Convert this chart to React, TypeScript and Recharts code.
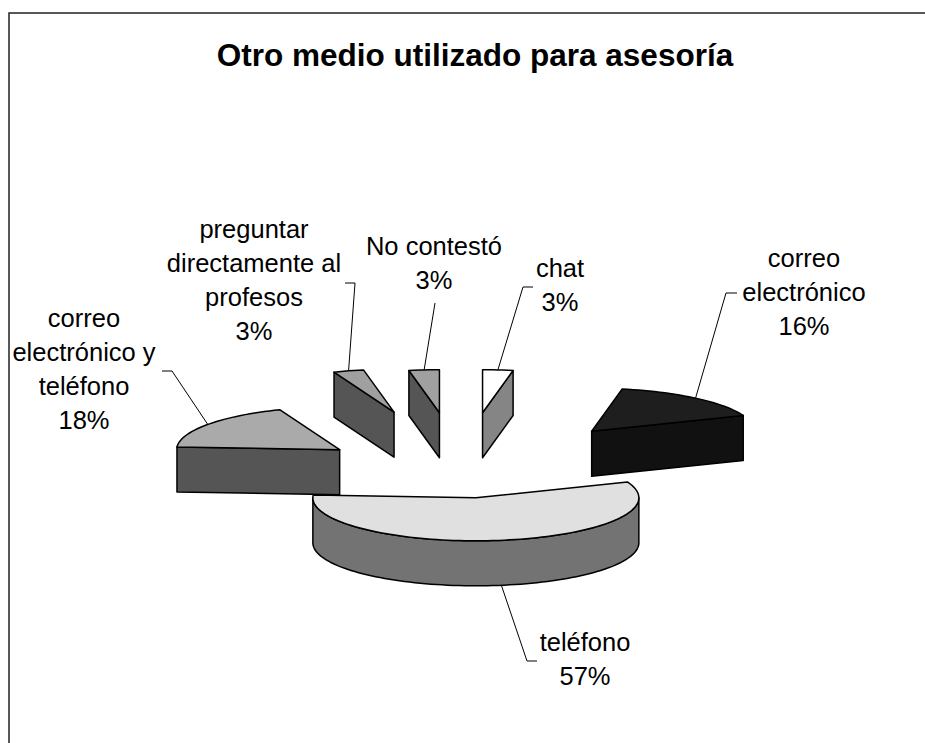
import { PieChart, Pie } from 'recharts'

const categories = [
  'chat',
  'correo electrónico',
  'teléfono',
  'correo electrónico y teléfono',
  'preguntar directamente al profesos',
  'No contestó',
]
const shares = [3, 16, 57, 18, 3, 3]

const data = categories.map((name, i) => ({ name, value: shares[i] }))

// per-slice look, same order as categories
const topColors = ['#ffffff', '#1e1e1e', '#e0e0e0', '#aaaaaa', '#a0a0a0', '#a0a0a0']
const sideColors = ['#858585', '#111111', '#737373', '#555555', '#555555', '#555555']
const explode = [229, 205, 95, 150, 240, 229]
const labelAt = [[560, 277], [804, 267], [585, 651], [84, 327], [254, 238], [434, 255]]
const elbows = [
  [[523, 287], [533, 287]],
  [[726, 293], [737, 293]],
  [[527, 661], [537, 661]],
  [[172, 371], [162, 371]],
  [[355, 283], [345, 283]],
  [[435, 303]],
]

const RAD = Math.PI / 180
const FLAT = 0.264
const DEPTH = 45
const FONT = '"Liberation Sans", Arial, sans-serif'

function at(x0: number, y0: number, r: number, t: number) {
  return [x0 + r * Math.sin(t * RAD), y0 - r * FLAT * Math.cos(t * RAD)]
}

function arc(x0: number, y0: number, r: number, a: number, b: number) {
  const n = Math.max(1, Math.ceil(Math.abs(b - a) / 2))
  const pts: number[][] = []
  for (let i = 0; i <= n; i++) pts.push(at(x0, y0, r, a + ((b - a) * i) / n))
  return pts
}

const down = (pts: number[][]) => pts.map(([x, y]) => [x, y + DEPTH])
const poly = (pts: number[][]) => pts.map((p) => p.join(',')).join(' ')

function geom(p: any) {
  const i = categories.indexOf(p.payload?.name ?? p.name)
  const t1 = 90 - p.startAngle
  const t2 = 90 - p.endAngle
  const tm = (t1 + t2) / 2
  const [x0, y0] = at(p.cx, p.cy, explode[i], tm)
  return { i, t1, t2, tm, x0, y0, r: p.outerRadius }
}

function Slice3D(p: any) {
  const { i, t1, t2, x0, y0, r } = geom(p)
  const apex = [x0, y0]
  const faces: number[][][] = []
  const s = at(x0, y0, r, t1)
  const e = at(x0, y0, r, t2)
  if (Math.cos((t1 - 90) * RAD) < -0.01) faces.push([apex, s, ...down([s, apex])])
  if (Math.cos((t2 + 90) * RAD) < -0.01) faces.push([apex, e, ...down([e, apex])])
  const a = Math.max(t1, 90)
  const b = Math.min(t2, 270)
  const wall = b > a ? [...arc(x0, y0, r, a, b), ...down(arc(x0, y0, r, b, a))] : null
  const top = [apex, ...arc(x0, y0, r, t1, t2)]
  const line = { stroke: '#000', strokeWidth: 1.5, strokeLinejoin: 'round' as const }
  return (
    <g>
      {faces.map((f, k) => (
        <polygon key={k} points={poly(f)} fill={sideColors[i]} {...line} />
      ))}
      {wall && <polygon points={poly(wall)} fill={sideColors[i]} {...line} />}
      <polygon points={poly(top)} fill={topColors[i]} {...line} />
    </g>
  )
}

function wrap(text: string, max: number) {
  const out: string[] = []
  let cur = ''
  for (const w of text.split(' ')) {
    if (cur && (cur + ' ' + w).length > max) {
      out.push(cur)
      cur = w
    } else cur = cur ? cur + ' ' + w : w
  }
  out.push(cur)
  return out
}

function SliceLabel(p: any) {
  const { i, tm, x0, y0, r } = geom(p)
  let [sx, sy] = at(x0, y0, r, tm)
  if (tm > 90 && tm < 270) sy += DEPTH
  const lines = [...wrap(categories[i], 15), `${Math.round(p.percent * 100)}%`]
  const [lx, ly] = labelAt[i]
  return (
    <g>
      <polyline points={poly([[sx, sy], ...elbows[i]])} fill="none" stroke="#000" strokeWidth={1} />
      <text x={lx} y={ly} textAnchor="middle" fontFamily={FONT} fontSize={25.5} fill="#000">
        {lines.map((t, k) => (
          <tspan key={k} x={lx} dy={k === 0 ? 0 : 34}>
            {t}
          </tspan>
        ))}
      </text>
    </g>
  )
}

export default function App() {
  return (
    <div style={{ position: 'absolute', left: 0, top: 0, width: 925, height: 743, background: '#fff' }}>
      <svg width={925} height={743} style={{ position: 'absolute', left: 0, top: 0 }}>
        <polyline points="9,743 9,13 925,13" fill="none" stroke="#222" strokeWidth={1.5} />
        <text x={475} y={66} textAnchor="middle" fontFamily={FONT} fontSize={31.5} fontWeight="bold">
          Otro medio utilizado para asesoría
        </text>
      </svg>
      <div style={{ position: 'absolute', left: 0, top: 0 }}>
        <PieChart width={925} height={743} margin={{ top: 0, right: 0, bottom: 0, left: 0 }}>
          <Pie
            data={data}
            dataKey="value"
            nameKey="name"
            cx={461}
            cy={473}
            outerRadius={163}
            startAngle={90}
            endAngle={-270}
            shape={Slice3D}
            label={SliceLabel}
            labelLine={false}
            isAnimationActive={false}
          />
        </PieChart>
      </div>
    </div>
  )
}
